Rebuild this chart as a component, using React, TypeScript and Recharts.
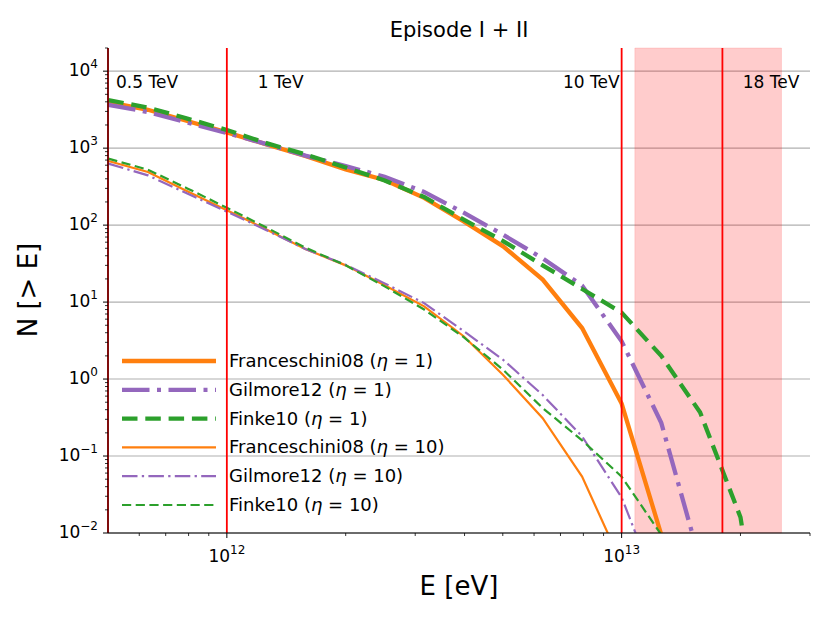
import React from 'react';
import { LineChart, Line, XAxis, YAxis, CartesianGrid, ReferenceLine, ReferenceArea, Legend } from 'recharts';

// energies in eV, sampled every 0.1 dex
const energies = [5.01e11, 6.31e11, 7.94e11, 1.0e12, 1.26e12, 1.58e12, 2.0e12, 2.51e12, 3.16e12, 3.98e12, 5.01e12, 6.31e12, 7.94e12, 1.0e13, 1.26e13, 1.58e13, 2.0e13, 2.51e13];

// N(>E), eta = 1
const franceschini1 = [3950, 3150, 2250, 1600, 1120, 790, 530, 385, 226, 112, 53, 19.6, 4.6, 0.48, 0.0095, null, null, null];
const gilmore1 = [3650, 2950, 2150, 1570, 1130, 800, 585, 425, 270, 145, 75, 37, 16.4, 3.1, 0.27, 0.0043, null, null];
const finke1 = [4200, 3370, 2420, 1720, 1160, 830, 560, 380, 232, 118, 62, 30, 14.8, 7.3, 2.0, 0.37, 0.016, 0.00001];

// N(>E), eta = 10
const franceschini10 = [680, 489, 276, 156, 88, 49, 30, 16.5, 8.8, 3.6, 1.13, 0.31, 0.054, 0.004, null, null, null, null];
const gilmore10 = [630, 443, 258, 150, 86, 49, 30.5, 17.5, 9.7, 4.2, 1.78, 0.62, 0.18, 0.029, 0.0014, null, null, null];
const finke10 = [730, 525, 300, 168, 93, 51, 30, 16, 8.0, 3.5, 1.32, 0.42, 0.16, 0.054, 0.0095, null, null, null];

const markers = [
  { E: 5e11, text: '0.5 TeV', dx: 8, anchor: 'start' },
  { E: 1e12, text: '1 TeV', dx: 31, anchor: 'start' },
  { E: 1e13, text: '10 TeV', dx: -2, anchor: 'end' },
  { E: 1.8e13, text: '18 TeV', dx: 77, anchor: 'end' },
];
const shadeFrom = 1.08e13;
const shadeTo = 2.54e13;

const xMajor = [1e12, 1e13];
const xTicks = [6e11, 7e11, 8e11, 9e11, 1e12, 2e12, 3e12, 4e12, 5e12, 6e12, 7e12, 8e12, 9e12, 1e13, 2e13, 3e13];
const yMajor = [1e-2, 1e-1, 1, 10, 100, 1e3, 1e4];
const yMinorMult = [2, 3, 4, 5, 6, 7, 8, 9];
const yTicks: number[] = [];
yMajor.forEach((d) => {
  yTicks.push(d);
  yMinorMult.forEach((m) => {
    if (m * d <= 2e4) yTicks.push(m * d);
  });
});

const series = [
  { key: 'fr1', name: 'Franceschini08', eta: '1', color: '#ff7f0e', width: 4.3, dash: undefined },
  { key: 'gi1', name: 'Gilmore12', eta: '1', color: '#9467bd', width: 4.3, dash: '27.5 7.5 4 7.5' },
  { key: 'fi1', name: 'Finke10', eta: '1', color: '#2ca02c', width: 4.3, dash: '15.5 7.8' },
  { key: 'fr10', name: 'Franceschini08', eta: '10', color: '#ff7f0e', width: 2.2, dash: undefined },
  { key: 'gi10', name: 'Gilmore12', eta: '10', color: '#9467bd', width: 2.2, dash: '15.5 4.3 2.3 4.3' },
  { key: 'fi10', name: 'Finke10', eta: '10', color: '#2ca02c', width: 2.2, dash: '9.2 4.5' },
];

const rows = energies.map((E, i) => ({
  E,
  fr1: franceschini1[i],
  gi1: gilmore1[i],
  fi1: finke1[i],
  fr10: franceschini10[i],
  gi10: gilmore10[i],
  fi10: finke10[i],
}));

const FONT = 'DejaVu Sans, sans-serif';

const expText = (v: number) => {
  const e = Math.round(Math.log10(v));
  return e < 0 ? '\u2212' + -e : String(e);
};

const XTick = (props: any) => {
  const { x, y, payload } = props;
  const major = xMajor.includes(payload.value);
  return (
    <g>
      <line x1={x} x2={x} y1={y} y2={y + (major ? 5 : 3)} stroke="#000" strokeWidth={major ? 1 : 0.8} />
      {major && (
        <text x={x} y={y + 29} textAnchor="middle" fontSize={17} fontFamily={FONT} fill="#000">
          <tspan>10</tspan>
          <tspan dy={-8} fontSize={12}>{expText(payload.value)}</tspan>
        </text>
      )}
    </g>
  );
};

const YTick = (props: any) => {
  const { x, y, payload } = props;
  const major = yMajor.includes(payload.value);
  return (
    <g>
      <line x1={x - (major ? 5 : 3)} x2={x} y1={y} y2={y} stroke="#000" strokeWidth={major ? 1 : 0.8} />
      {major && (
        <text x={x - 10} y={y + 5} textAnchor="end" fontSize={17} fontFamily={FONT} fill="#000">
          <tspan>10</tspan>
          <tspan dy={-8} fontSize={12}>{expText(payload.value)}</tspan>
        </text>
      )}
    </g>
  );
};

const markerLabel = (m: (typeof markers)[number]) => (p: any) => {
  const vb = p.viewBox || {};
  return (
    <text x={(vb.x ?? 0) + m.dx} y={(vb.y ?? 0) + 40} textAnchor={m.anchor} fontSize={17} fontFamily={FONT} fill="#000">
      {m.text}
    </text>
  );
};

const LegendBox = () => (
  <svg width={340} height={180} style={{ display: 'block', overflow: 'visible' }}>
    {series.map((s, i) => {
      const cy = 18 + i * 28.8;
      return (
        <g key={s.key}>
          <line x1={12} x2={106} y1={cy} y2={cy} stroke={s.color} strokeWidth={s.width} strokeDasharray={s.dash} />
          <text x={119} y={cy + 6} fontSize={18} fontFamily={FONT} fill="#000">
            {s.name} (<tspan fontStyle="italic">η</tspan> = {s.eta})
          </text>
        </g>
      );
    })}
  </svg>
);

const App = () => (
  <div style={{ position: 'absolute', left: 0, top: 0, width: 830, height: 623, background: '#fff' }}>
    <LineChart width={830} height={623} data={rows} margin={{ top: 48, right: 20, bottom: 0, left: 8 }}>
      <CartesianGrid vertical={false} horizontalValues={yMajor} stroke="#b0b0b0" strokeWidth={1.1} />
      <ReferenceArea x1={shadeFrom} x2={shadeTo} fill="#ff0000" fillOpacity={0.2} stroke="#ff0000" strokeOpacity={0.12} />
      <XAxis
        dataKey="E"
        type="number"
        scale="log"
        domain={[5e11, 3e13]}
        allowDataOverflow
        ticks={xTicks}
        interval={0}
        tick={<XTick />}
        tickLine={false}
        tickSize={0}
        tickMargin={0}
        height={90}
        axisLine={{ stroke: '#000' }}
      />
      <XAxis
        xAxisId="top"
        orientation="top"
        dataKey="E"
        type="number"
        scale="log"
        domain={[5e11, 3e13]}
        allowDataOverflow
        height={0}
        tick={false}
        tickLine={false}
        axisLine={{ stroke: '#000' }}
      />
      <YAxis
        type="number"
        scale="log"
        domain={[0.01, 20000]}
        allowDataOverflow
        ticks={yTicks}
        interval={0}
        tick={<YTick />}
        tickLine={false}
        tickSize={0}
        tickMargin={0}
        width={100}
        axisLine={{ stroke: '#000' }}
      />
      <YAxis
        yAxisId="right"
        orientation="right"
        type="number"
        scale="log"
        domain={[0.01, 20000]}
        allowDataOverflow
        width={0}
        tick={false}
        tickLine={false}
        axisLine={{ stroke: '#000' }}
      />
      {series.map((s) => (
        <Line
          key={s.key}
          dataKey={s.key}
          type="linear"
          stroke={s.color}
          strokeWidth={s.width}
          strokeDasharray={s.dash}
          dot={false}
          activeDot={false}
          isAnimationActive={false}
        />
      ))}
      {markers.map((m) => (
        <ReferenceLine key={m.text} x={m.E} stroke="#ff0000" strokeWidth={1.8} label={markerLabel(m)} />
      ))}
      <Legend
        layout="horizontal"
        verticalAlign="middle"
        align="center"
        wrapperStyle={{ position: 'absolute', left: 110, top: 343, width: 340, height: 180 }}
        content={() => <LegendBox />}
      />
    </LineChart>
    <svg width={830} height={623} style={{ position: 'absolute', left: 0, top: 0, pointerEvents: 'none' }}>
      <text x={459} y={37} textAnchor="middle" fontSize={21} fontFamily={FONT} fill="#000">Episode I + II</text>
      <text x={459} y={595} textAnchor="middle" fontSize={26} fontFamily={FONT} fill="#000">E [eV]</text>
      <text x={37} y={290} textAnchor="middle" fontSize={26} fontFamily={FONT} fill="#000" transform="rotate(-90 37 290)">N [&gt; E]</text>
    </svg>
  </div>
);

export default App;
